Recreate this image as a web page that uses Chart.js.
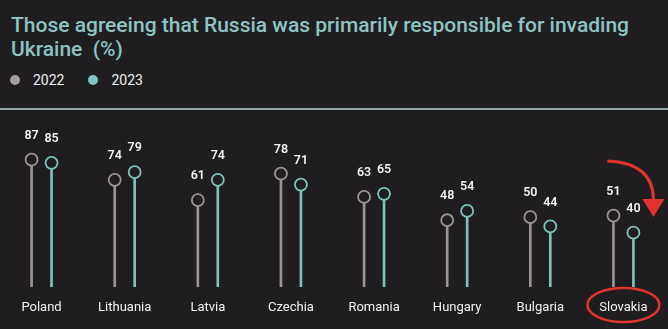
<!DOCTYPE html>
<html>
<head>
<meta charset="utf-8">
<script src="https://cdn.jsdelivr.net/npm/chart.js@4"></script>
<style>
  html, body { margin: 0; padding: 0; background: #201d21; }
  body { width: 668px; height: 329px; position: relative; overflow: hidden; font-family: Roboto, "Noto Sans", sans-serif; }
  .title { position: absolute; left: 11px; top: 13px; width: 640px; color: #8cc4c2; font-size: 21px; font-weight: 500; line-height: 24px; }
  .legend { position: absolute; left: 10px; top: 72px; color: #f0f0f0; font-size: 14px; display: flex; align-items: center; }
  .legend .dot { width: 10px; height: 10px; border-radius: 50%; display: inline-block; margin-right: 13px; }
  .legend .item { display: flex; align-items: center; margin-right: 24px; }
  .rule { position: absolute; left: 0; top: 108px; width: 668px; height: 2px; background: #8fa3a8; }
  .chart-box { position: absolute; left: 0; top: 110px; width: 668px; height: 219px; }
</style>
</head>
<body>
<div class="title">Those agreeing that Russia was primarily responsible for invading Ukraine&nbsp; (%)</div>
<div class="legend">
  <span class="item"><span class="dot" style="background:#a59e9e"></span>2022</span>
  <span class="item"><span class="dot" style="background:#7ec8c4"></span>2023</span>
</div>
<div class="rule"></div>
<div class="chart-box"><canvas id="lollipop"></canvas></div>

<script>
const countries = ['Poland', 'Lithuania', 'Latvia', 'Czechia', 'Romania', 'Hungary', 'Bulgaria', 'Slovakia'];
const values2022 = [87, 74, 61, 78, 63, 48, 50, 51];
const values2023 = [85, 79, 74, 71, 65, 54, 44, 40];

const grey = '#9a9494';
const teal = '#7cc3bd';
const bg = '#201d21';
const offset = 0.12;

// stems + circles share the same x position (category index +/- offset)
const toPoints = (vals, shift) => vals.map((v, i) => ({ x: i + shift, y: v }));

// value labels above each circle, plus the red arrow / ellipse around Slovakia
const markupPlugin = {
    id: 'markup',
    afterDatasetsDraw(chart) {
        const ctx = chart.ctx;
        ctx.save();
        ctx.font = '600 12.5px Roboto, "Noto Sans", sans-serif';
        ctx.fillStyle = '#f2f2f2';
        ctx.textAlign = 'center';
        ctx.textBaseline = 'middle';
        chart.data.datasets.forEach((ds, di) => {
            if (ds.type !== 'scatter') return;
            chart.getDatasetMeta(di).data.forEach((pt, i) => {
                ctx.fillText(ds.data[i].y, pt.x, pt.y - 24);
            });
        });

        const xs = chart.scales.x;
        const area = chart.chartArea;
        const cx = xs.getPixelForValue(countries.length - 1);
        ctx.strokeStyle = '#e0342c';
        ctx.fillStyle = '#e0342c';
        ctx.lineWidth = 2.5;
        ctx.beginPath();
        ctx.ellipse(cx, area.bottom + 18, 36, 17, 0, 0, Math.PI * 2);
        ctx.stroke();

        ctx.lineWidth = 3;
        ctx.beginPath();
        ctx.moveTo(cx - 16, area.top + 51);
        ctx.quadraticCurveTo(cx + 30, area.top + 53, cx + 30, area.top + 90);
        ctx.stroke();
        ctx.beginPath();
        ctx.moveTo(cx + 19, area.top + 89);
        ctx.lineTo(cx + 41, area.top + 89);
        ctx.lineTo(cx + 30, area.top + 107);
        ctx.closePath();
        ctx.fill();
        ctx.restore();
    }
};

const ctx = document.getElementById('lollipop').getContext('2d');
new Chart(ctx, {
    type: 'bar',
    data: {
        datasets: [
            { type: 'scatter', label: '2022', data: toPoints(values2022, -offset), order: 0,
              pointRadius: 6, pointHoverRadius: 6, borderColor: grey, backgroundColor: bg, borderWidth: 1.8 },
            { type: 'scatter', label: '2023', data: toPoints(values2023, offset), order: 0,
              pointRadius: 6, pointHoverRadius: 6, borderColor: teal, backgroundColor: bg, borderWidth: 1.8 },
            { type: 'bar', label: '2022 stem', data: toPoints(values2022, -offset), order: 1,
              backgroundColor: grey, barThickness: 2, grouped: false, clip: 0 },
            { type: 'bar', label: '2023 stem', data: toPoints(values2023, offset), order: 1,
              backgroundColor: teal, barThickness: 2, grouped: false, clip: 0 }
        ]
    },
    options: {
        responsive: true,
        maintainAspectRatio: false,
        animation: false,
        layout: { autoPadding: false, padding: { left: 0, right: 3, top: 0, bottom: 14 } },
        plugins: {
            legend: { display: false },
            tooltip: { enabled: false }
        },
        scales: {
            x: {
                type: 'linear',
                offset: false,
                min: -0.5,
                max: countries.length - 0.5,
                grid: { display: false, drawTicks: false },
                border: { display: false },
                afterBuildTicks: s => { s.ticks = countries.map((c, i) => ({ value: i })); },
                afterFit: s => { s.height = 28; },
                ticks: {
                    color: '#f2f2f2',
                    font: { family: 'Roboto', size: 13 },
                    padding: 13,
                    autoSkip: false,
                    maxRotation: 0,
                    callback: v => countries[v]
                }
            },
            y: {
                display: false,
                min: 5,
                max: 119
            }
        }
    },
    plugins: [markupPlugin]
});
</script>
</body>
</html>
